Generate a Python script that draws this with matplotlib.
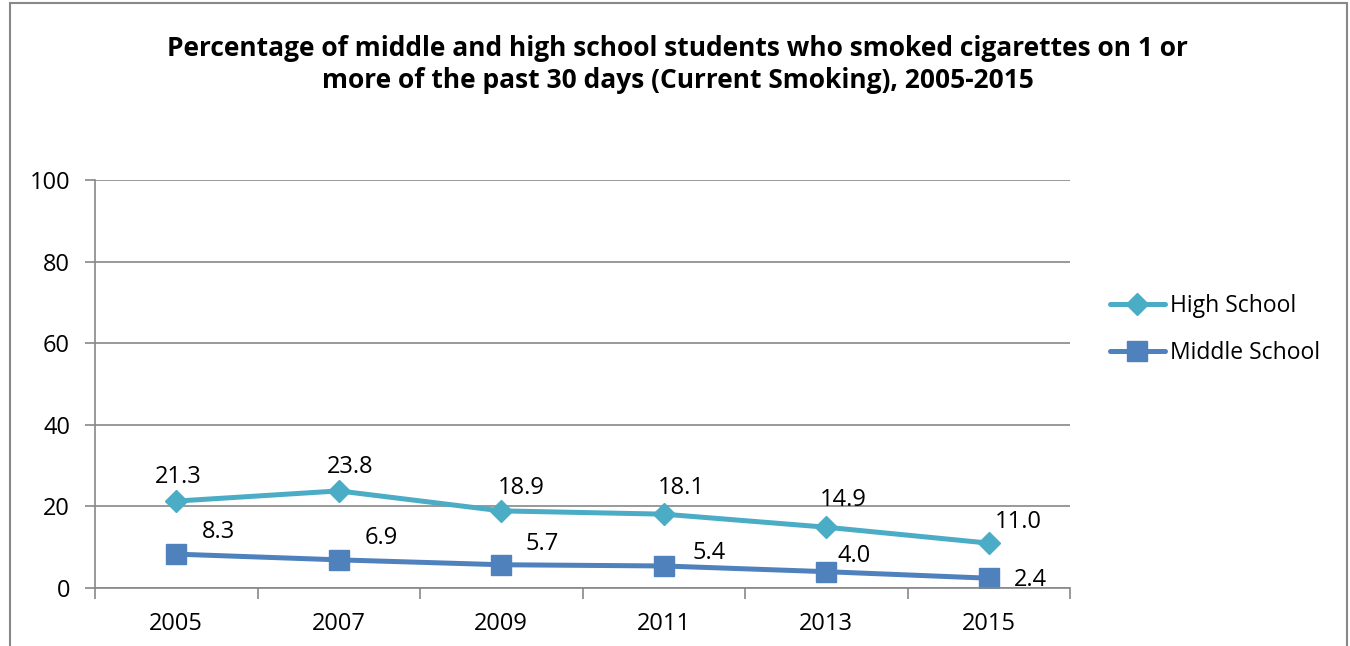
import matplotlib
matplotlib.use("Agg")
import matplotlib.pyplot as plt
from matplotlib.patches import Rectangle

years = ["2005", "2007", "2009", "2011", "2013", "2015"]
high_school = [21.3, 23.8, 18.9, 18.1, 14.9, 11.0]
middle_school = [8.3, 6.9, 5.7, 5.4, 4.0, 2.4]

plt.rcParams['font.family'] = ['Open Sans', 'DejaVu Sans']

fig = plt.figure(figsize=(13.5, 6.46), dpi=100)
fig.patches.append(Rectangle((10 / 1350, -0.1), 1337 / 1350, 1.1 - 3 / 646,
                             transform=fig.transFigure, fill=False,
                             edgecolor='#888888', lw=1.5, clip_on=False))

ax = fig.add_axes([95 / 1350, 58 / 646, 975 / 1350, 408 / 646])

x = [i + 0.5 for i in range(len(years))]
hs_color = '#4BACC6'
ms_color = '#4F81BD'

ax.plot(x, high_school, color=hs_color, lw=3.6, marker='D', ms=11,
        label='High School', solid_capstyle='round')
ax.plot(x, middle_school, color=ms_color, lw=3.6, marker='s', ms=14,
        label='Middle School', solid_capstyle='round')

# label offsets in pixels, roughly where Excel put them
hs_off = [(2, 24), (11, 24), (20, 23), (18, 26), (17, 27), (30, 21)]
ms_off = [(42, 22), (43, 22), (41, 21), (45, 13), (28, 16), (42, -2)]
px = 72 / 100.0
for xi, v, off in zip(x, high_school, hs_off):
    ax.annotate("%.1f" % v, (xi, v), xytext=(off[0] * px, off[1] * px),
                textcoords='offset points', ha='center', va='center', fontsize=17)
for xi, v, off in zip(x, middle_school, ms_off):
    ax.annotate("%.1f" % v, (xi, v), xytext=(off[0] * px, off[1] * px),
                textcoords='offset points', ha='center', va='center', fontsize=17)

ax.set_xlim(0, len(years))
ax.set_ylim(0, 100)
ax.set_yticks(range(0, 101, 20))
ax.set_xticks(x)
ax.set_xticklabels(years)
ax.set_xticks(range(len(years) + 1), minor=True)
ax.tick_params(axis='x', which='major', length=0, labelsize=17, pad=17)
ax.tick_params(axis='x', which='minor', length=8, color='#888888', width=1.2)
ax.tick_params(axis='y', length=7, color='#888888', width=1.2, labelsize=17, pad=11)
ax.grid(axis='y', color='#888888', lw=1.2)
ax.set_axisbelow(True)
for s in ['top', 'right']:
    ax.spines[s].set_visible(False)
for s in ['left', 'bottom']:
    ax.spines[s].set_color('#888888')
    ax.spines[s].set_linewidth(1.2)

ax.legend(loc='center left', bbox_to_anchor=(1.041, 0.633), frameon=False,
          fontsize=16.5, handlelength=2.4, labelspacing=1.0, handletextpad=0.2,
          borderaxespad=0, borderpad=0)

fig.text(0.502, 0.9, "Percentage of middle and high school students who smoked cigarettes on 1 or\n"
         "more of the past 30 days (Current Smoking), 2005-2015",
         ha='center', va='center', fontsize=19, fontweight='bold', linespacing=1.25)

fig.savefig("out.png", dpi=100)
